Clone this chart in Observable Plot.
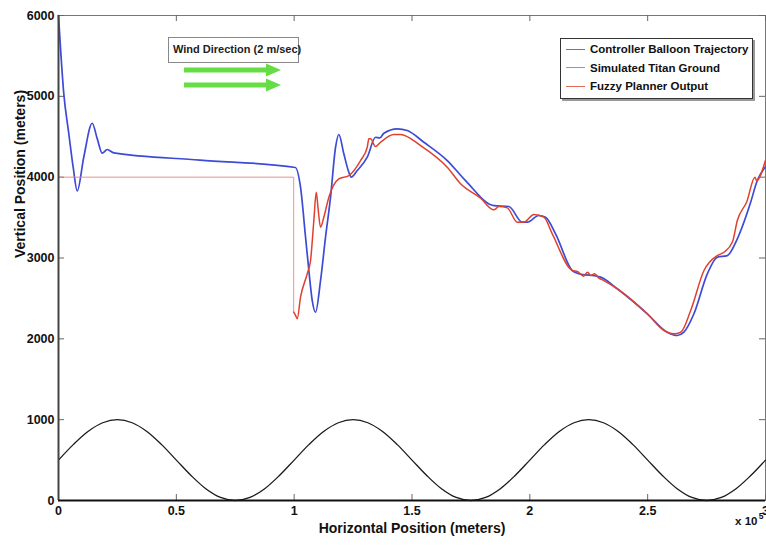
<!DOCTYPE html>
<html>
<head>
<meta charset="utf-8">
<script src="https://cdn.jsdelivr.net/npm/d3@7"></script>
<script src="https://cdn.jsdelivr.net/npm/@observablehq/plot@0.6"></script>
<style>
  body { margin: 0; background: #fff; }
  #wrap { position: relative; width: 766px; height: 546px; overflow: hidden; font-family: "Liberation Sans", Arial, sans-serif; }
  .legend { position: absolute; left: 560px; top: 38px; width: 191px; height: 59px; background: #fff; border: 1px solid #333; box-shadow: 2px 2px 0 #999; }
  .legend .row { position: absolute; left: 0; height: 18px; display: flex; align-items: center; }
  .legend .sw { width: 19px; height: 0; border-top: 1.5px solid; margin-left: 5px; margin-right: 5px; }
  .legend .lbl { font-weight: bold; font-size: 11.5px; color: #111; white-space: nowrap; }
  .wind { position: absolute; left: 168px; top: 37px; width: 129px; height: 24px; border: 1px solid #888; background: #fff; }
  .wind span { position: absolute; left: 4px; top: 5px; font-size: 11px; font-weight: bold; color: #222; white-space: nowrap; }
  svg.ann { position: absolute; left: 0; top: 0; }
</style>
</head>
<body>
<div id="wrap"></div>
<script>
// ---- data ----
const xTicks = [0, 50000, 100000, 150000, 200000, 250000, 300000];
const yTicks = [0, 1000, 2000, 3000, 4000, 5000, 6000];

const seriesNames = ["Controller Balloon Trajectory", "Simulated Titan Ground", "Fuzzy Planner Output"];
const seriesColors = ["#3d4bd6", "#1a1a1a", "#e0402e"];
const legendColors = ["#6a6ad8", "#999999", "#e06a5a"];

const groundX = [0,6250,12500,18750,25000,31250,37500,43750,50000,56250,62500,68750,75000,81250,87500,93750,
  100000,106250,112500,118750,125000,131250,137500,143750,150000,156250,162500,168750,175000,181250,187500,193750,
  200000,206250,212500,218750,225000,231250,237500,243750,250000,256250,262500,268750,275000,281250,287500,293750,300000];
const groundY = [500,691,854,962,1000,962,854,691,500,309,146,38,0,38,146,309,
  500,691,854,962,1000,962,854,691,500,309,146,38,0,38,146,309,
  500,691,854,962,1000,962,854,691,500,309,146,38,0,38,146,309,500];

const balloonX = [0,2250,4370,6240,7940,10740,14300,16400,18550,20670,23470,60000,100500,102700,104830,106230,107670,109070,
  111190,113310,115440,117560,118960,121080,123200,124220,126770,131010,134530,136360,138060,143750,147990,155030,164960,
  172700,184740,191110,196790,198910,203840,206680,210920,218010,220130,230030,237110,249840,258330,262570,265380,269630,
  275310,279550,283790,288040,293500,296520,300000];
const balloonY = [6000,5030,4540,4120,3830,4250,4667,4480,4297,4342,4300,4212,4120,3876,3257,2845,2474,2329,
  2721,3257,3752,4370,4528,4289,4061,4000,4082,4247,4494,4486,4544,4598,4577,4432,4206,
  3958,3649,3637,3443,3443,3526,3505,3299,2845,2812,2763,2619,2310,2082,2041,2082,2310,
  2804,3010,3030,3237,3670,3958,4130];

const fuzzyFlatX = [0, 99800, 99800];
const fuzzyFlatY = [4000, 4000, 2330];

const fuzzyX = [99800,100580,101300,102700,105540,106950,108350,109370,110150,111190,112590,114720,118960,123200,128170,
  131010,131690,132410,134530,136650,142300,145140,153630,164960,170600,179100,184740,186860,190440,194690,197500,
  201740,205980,209520,218010,220130,221540,222810,224510,225780,227480,229180,231430,237110,249840,256920,261160,
  264050,268250,273900,279550,282380,286000,288040,292100,295500,296220,300000];
const fuzzyY = [2330,2290,2248,2515,2804,2969,3464,3814,3610,3381,3505,3752,3979,4020,4206,
  4370,4474,4474,4379,4432,4528,4528,4391,4123,3918,3740,3596,3637,3620,3443,3443,
  3538,3505,3299,2845,2833,2800,2775,2825,2785,2805,2755,2721,2619,2310,2103,2062,
  2082,2350,2845,3030,3071,3200,3464,3700,4000,3958,4210];

const xLabel = "Horizontal Position (meters)";
const yLabel = "Vertical Position (meters)";
const windLabel = "Wind Direction (2 m/sec)";

const ground = groundX.map((x, i) => ({x, y: groundY[i]}));
const balloon = balloonX.map((x, i) => ({x, y: balloonY[i]}));
const fuzzyFlat = fuzzyFlatX.map((x, i) => ({x, y: fuzzyFlatY[i]}));
const fuzzy = fuzzyX.map((x, i) => ({x, y: fuzzyY[i]}));

const font = '"Liberation Sans", Arial, sans-serif';

const chart = Plot.plot({
  width: 766,
  height: 546,
  marginLeft: 58,
  marginRight: 1,
  marginTop: 15,
  marginBottom: 46,
  x: {domain: [0, 300000], axis: null},
  y: {domain: [0, 6000], axis: null},
  style: {fontFamily: font, fontSize: "12.5px", fontWeight: "bold", background: "#fff", color: "#111", overflow: "visible"},
  marks: [
    Plot.frame({stroke: "#777", strokeWidth: 1}),
    Plot.tickY(yTicks, {y: d => d, insetRight: 701, stroke: "#666"}),
    Plot.tickY(yTicks, {y: d => d, insetLeft: 701, stroke: "#666"}),
    Plot.tickX(xTicks, {x: d => d, insetTop: 479, stroke: "#666"}),
    Plot.tickX(xTicks, {x: d => d, insetBottom: 479, stroke: "#666"}),
    Plot.line(ground, {x: "x", y: "y", stroke: seriesColors[1], strokeWidth: 1.3, curve: "catmull-rom"}),
    Plot.line(balloon, {x: "x", y: "y", stroke: seriesColors[0], strokeWidth: 1.7, curve: "monotone-x"}),
    Plot.line(fuzzyFlat, {x: "x", y: "y", stroke: "#f08080", strokeWidth: 0.9}),
    Plot.line(fuzzy, {x: "x", y: "y", stroke: seriesColors[2], strokeWidth: 1.5, curve: "monotone-x"}),
    Plot.ruleX([0], {stroke: "#444", strokeWidth: 2}),
    Plot.ruleY([0], {stroke: "#111", strokeWidth: 2}),
    Plot.axisX({ticks: xTicks, tickSize: 0, tickPadding: 6, tickFormat: d => String(d / 1e5), label: null}),
    Plot.axisY({ticks: yTicks, tickSize: 0, tickPadding: 4, tickFormat: d => String(d), label: null}),
    Plot.text([xLabel], {frameAnchor: "bottom", dy: 32, fontSize: 14, fontWeight: "bold", fill: "#111"}),
    Plot.text([yLabel], {frameAnchor: "left", dx: -38, rotate: -90, fontSize: 14, fontWeight: "bold", fill: "#111"}),
    Plot.text(["x 10"], {frameAnchor: "bottom-right", dx: -8, dy: 24, textAnchor: "end", fontSize: 11.5, fontWeight: "bold", fill: "#111"}),
    Plot.text(["5"], {frameAnchor: "bottom-right", dx: -2, dy: 18, textAnchor: "end", fontSize: 8.5, fontWeight: "bold", fill: "#111"})
  ]
});

const wrap = document.getElementById("wrap");
wrap.appendChild(chart);

// wind annotation box
const wind = document.createElement("div");
wind.className = "wind";
wind.innerHTML = `<span>${windLabel}</span>`;
wrap.appendChild(wind);

// wind arrows
const ns = "http://www.w3.org/2000/svg";
const ann = document.createElementNS(ns, "svg");
ann.setAttribute("class", "ann");
ann.setAttribute("width", 766);
ann.setAttribute("height", 546);
[70, 85].forEach(y => {
  const l = document.createElementNS(ns, "line");
  l.setAttribute("x1", 184); l.setAttribute("x2", 269);
  l.setAttribute("y1", y); l.setAttribute("y2", y);
  l.setAttribute("stroke", "#66dd44"); l.setAttribute("stroke-width", 5);
  ann.appendChild(l);
  const p = document.createElementNS(ns, "polygon");
  p.setAttribute("points", `266,${y - 6.5} 281,${y} 266,${y + 6.5}`);
  p.setAttribute("fill", "#66dd44");
  ann.appendChild(p);
});
wrap.appendChild(ann);

// legend
const legend = document.createElement("div");
legend.className = "legend";
seriesNames.forEach((name, i) => {
  const row = document.createElement("div");
  row.className = "row";
  row.style.top = (1 + i * 18.5) + "px";
  row.innerHTML = `<div class="sw" style="border-color:${legendColors[i]}"></div><div class="lbl">${name}</div>`;
  legend.appendChild(row);
});
wrap.appendChild(legend);
</script>
</body>
</html>
